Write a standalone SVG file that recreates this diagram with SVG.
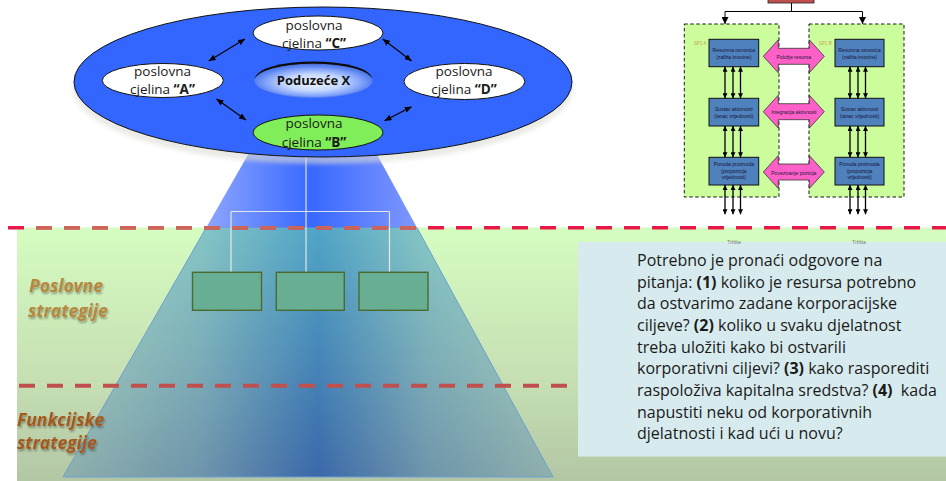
<svg xmlns="http://www.w3.org/2000/svg" width="946" height="481" viewBox="0 0 946 481">
  <style>
    .unit { font-family: "Open Sans", "Noto Sans", sans-serif; font-size: 13.5px; fill: #1a1a1a; text-anchor: middle; }
    .unit tspan.b { font-weight: bold; }
    .hub { font-family: "Open Sans", "Noto Sans", sans-serif; font-size: 13px; font-weight: bold; fill: #111; text-anchor: middle; }
    .level { font-family: "Open Sans", "Noto Sans", sans-serif; font-size: 17.5px; font-weight: bold; font-style: italic; }
    .note { font-family: "Open Sans", "Noto Sans", sans-serif; font-size: 16px; fill: #1a1a1a; white-space: pre; }
    .note tspan.b { font-weight: bold; }
    .tiny { font-family: "Liberation Sans", Arial, sans-serif; font-size: 5px; fill: #16163a; text-anchor: middle; }
    .sp { font-family: "Liberation Sans", Arial, sans-serif; font-size: 4.5px; fill: #c9a24e; }
    .mkt { font-family: "Liberation Sans", Arial, sans-serif; font-size: 4.5px; fill: #777; text-anchor: middle; }
    .link { stroke: #000; stroke-width: 1.2; fill: none; marker-start: url(#head); marker-end: url(#head); }
    .flow { stroke: #000; stroke-width: 1.3; fill: none; marker-start: url(#tip); marker-end: url(#tip); }
    .drop { stroke: #000; stroke-width: 1; fill: none; }
    .bucket { fill: #ccfd9c; stroke: #000; stroke-width: 0.9; stroke-dasharray: 3.5 2.5; }
    .block { fill: #4f81bd; stroke: #111; stroke-width: 1; }
    .bridge { fill: #ff60c8; stroke: #333; stroke-width: 0.8; }
    .sbu { fill: #68ae93; stroke: #4b6a2f; stroke-width: 1.4; }
    .wire { stroke: #f6f6e8; stroke-opacity: 0.85; stroke-width: 1.2; fill: none; }
  </style>
  <defs>
    <linearGradient id="bandFill" x1="0" y1="0" x2="0" y2="1">
      <stop offset="0" stop-color="#d5fdc1"/>
      <stop offset="0.6" stop-color="#c6dfb3"/>
      <stop offset="1" stop-color="#b2c6a4"/>
    </linearGradient>
    <linearGradient id="beamTop" gradientUnits="userSpaceOnUse" x1="206" y1="0" x2="417" y2="0">
      <stop offset="0" stop-color="#8ea6ff"/>
      <stop offset="0.5" stop-color="#3868ff"/>
      <stop offset="1" stop-color="#8098ff"/>
    </linearGradient>
    <linearGradient id="beamColor" gradientUnits="userSpaceOnUse" x1="0" y1="228" x2="0" y2="477">
      <stop offset="0" stop-color="#3c98c8"/>
      <stop offset="1" stop-color="#2858a8"/>
    </linearGradient>
    <linearGradient id="beamProfile" gradientUnits="userSpaceOnUse" x1="63" y1="0" x2="553" y2="0">
      <stop offset="0" stop-color="#262626"/>
      <stop offset="0.28" stop-color="#6a6a6a"/>
      <stop offset="0.52" stop-color="#d8d8d8"/>
      <stop offset="0.74" stop-color="#6a6a6a"/>
      <stop offset="1" stop-color="#262626"/>
    </linearGradient>
    <mask id="beamMask" maskUnits="userSpaceOnUse" x="0" y="0" width="946" height="481">
      <rect x="63" y="227" width="490" height="251" fill="url(#beamProfile)"/>
    </mask>
    <radialGradient id="hubFill" cx="0.5" cy="0.5" r="0.5" gradientTransform="translate(0,0.05)">
      <stop offset="0" stop-color="#f2f7ff"/>
      <stop offset="0.5" stop-color="#c4d8ff"/>
      <stop offset="0.85" stop-color="#7a9cf8"/>
      <stop offset="1" stop-color="#5580f0"/>
    </radialGradient>
    <filter id="blur" x="-10%" y="-20%" width="120%" height="140%">
      <feGaussianBlur stdDeviation="2"/>
    </filter>
    <filter id="labelShadow" x="-10%" y="-30%" width="130%" height="170%">
      <feDropShadow dx="1" dy="2" stdDeviation="1.2" flood-color="#000" flood-opacity="0.35"/>
    </filter>
    <marker id="head" viewBox="0 0 7 6" refX="7" refY="3" markerWidth="7" markerHeight="6" markerUnits="userSpaceOnUse" orient="auto-start-reverse">
      <path d="M0,0 L7,3 L0,6 Z" fill="#000"/>
    </marker>
    <marker id="tip" viewBox="0 0 5 5" refX="5" refY="2.5" markerWidth="5" markerHeight="5" markerUnits="userSpaceOnUse" orient="auto-start-reverse">
      <path d="M0,0 L5,2.5 L0,5 Z" fill="#000"/>
    </marker>
    <marker id="down" viewBox="0 0 7 7" refX="7" refY="3.5" markerWidth="7" markerHeight="7" markerUnits="userSpaceOnUse" orient="auto">
      <path d="M0,0 L7,3.5 L0,7 Z" fill="#000"/>
    </marker>
    <path id="bridgeShape" d="M0,0 L15,-16.5 L15,-8 L46,-8 L46,-16.5 L61,0 L46,16.5 L46,8 L15,8 L15,16.5 Z"/>
  </defs>

  <rect width="946" height="481" fill="#fff"/>

  <!-- strategy levels band -->
  <rect x="17" y="227.5" width="929" height="254" fill="url(#bandFill)"/>
  <rect x="578" y="242" width="368" height="214.5" fill="#d7ebee"/>

  <!-- beam under the corporate level -->
  <polygon points="206.3,227.5 416.9,227.5 553,477 63,477" fill="#6aa8c8" fill-opacity="0.25"/>
  <polygon points="206.3,227.5 416.9,227.5 553,477 63,477" fill="url(#beamColor)" mask="url(#beamMask)"/>
  <polygon points="206.3,227.5 416.9,227.5 553,477 63,477" fill="none" stroke="#6c9ed2" stroke-width="1"/>
  <polygon points="250.7,150 374.5,150 416.9,227.5 206.3,227.5" fill="url(#beamTop)"/>

  <!-- level separators -->
  <path d="M8,227.7 H946" stroke="#e8194a" stroke-width="3.5" stroke-dasharray="16 12"/>
  <path d="M36,227.7 H420" stroke="#cc6458" stroke-width="3.5" stroke-dasharray="16 12"/>
  <path d="M19,385.7 H568" stroke="#c0504d" stroke-width="4" stroke-dasharray="16 12"/>

  <!-- business strategy boxes -->
  <g id="connectors-tree">
    <path class="wire" d="M306,150 V272 M231,211.5 H389.5 M231,211.5 V272 M389.5,211.5 V272"/>
  </g>
  <g id="sbu-1"><rect class="sbu" x="192.5" y="272.3" width="69" height="38"/></g>
  <g id="sbu-2"><rect class="sbu" x="276.3" y="272.3" width="68" height="38"/></g>
  <g id="sbu-3"><rect class="sbu" x="359" y="272.3" width="69" height="38"/></g>

  <!-- corporate level -->
  <g id="corporation">
    <ellipse cx="323" cy="88" rx="250" ry="76" fill="#dcdcd4" opacity="0.6" filter="url(#blur)"/>
    <ellipse cx="323" cy="82" rx="249" ry="75" fill="#3366ff" stroke="#111" stroke-width="1"/>
  </g>
  <g id="unit-c">
    <ellipse cx="318" cy="33" rx="65" ry="17" fill="#fff" stroke="#111" stroke-width="1"/>
    <text class="unit" x="314" y="29.5">poslovna</text>
    <text class="unit" x="314" y="48">cjelina <tspan class="b">“C”</tspan></text>
  </g>
  <g id="unit-a">
    <ellipse cx="162.8" cy="80.5" rx="60.5" ry="17" fill="#fff" stroke="#111" stroke-width="1"/>
    <text class="unit" x="162.5" y="75.5">poslovna</text>
    <text class="unit" x="162.5" y="93.5">cjelina <tspan class="b">“A”</tspan></text>
  </g>
  <g id="unit-d">
    <ellipse cx="464.4" cy="81.5" rx="60.4" ry="18" fill="#fff" stroke="#111" stroke-width="1"/>
    <text class="unit" x="464" y="75.5">poslovna</text>
    <text class="unit" x="464" y="93.5">cjelina <tspan class="b">“D”</tspan></text>
  </g>
  <g id="unit-b">
    <ellipse cx="318" cy="132.5" rx="65" ry="17.5" fill="#80ee58" stroke="#111" stroke-width="1"/>
    <text class="unit" x="314" y="128">poslovna</text>
    <text class="unit" x="314" y="146.5">cjelina <tspan class="b">“B”</tspan></text>
  </g>
  <g id="company-x">
    <ellipse cx="313.5" cy="78.8" rx="58.5" ry="17.3" fill="#0c0c0c"/>
    <ellipse cx="313.5" cy="80.8" rx="58.8" ry="16.6" fill="url(#hubFill)" stroke="#5a82ee" stroke-width="0.8"/>
    <text class="hub" x="313.5" y="85">Poduzeće X</text>
  </g>
  <g id="connectors-units">
    <line class="link" x1="208.7" y1="61" x2="245" y2="39"/>
    <line class="link" x1="382.8" y1="39" x2="411.6" y2="61"/>
    <line class="link" x1="216.5" y1="99" x2="246" y2="120"/>
    <line class="link" x1="384.5" y1="120.7" x2="411.6" y2="106.7"/>
  </g>

  <!-- level names -->
  <g id="label-business" filter="url(#labelShadow)">
    <text class="level" x="29" y="292" fill="#b8863c">Poslovne</text>
    <text class="level" x="28" y="317" fill="#b8863c">strategije</text>
  </g>
  <g id="label-functional" filter="url(#labelShadow)">
    <text class="level" x="17" y="426" fill="#a6591f">Funkcijske</text>
    <text class="level" x="17" y="449" fill="#a6591f">strategije</text>
  </g>

  <!-- questions -->
  <g id="note">
    <text class="note" x="637" y="266">Potrebno je pronaći odgovore na</text>
    <text class="note" x="637" y="287.7">pitanja: <tspan class="b">(1)</tspan> koliko je resursa potrebno</text>
    <text class="note" x="637" y="309.3">da ostvarimo zadane korporacijske</text>
    <text class="note" x="637" y="331">ciljeve? <tspan class="b">(2)</tspan> koliko u svaku djelatnost</text>
    <text class="note" x="637" y="352.7">treba uložiti kako bi ostvarili</text>
    <text class="note" x="637" y="374.3">korporativni ciljevi? <tspan class="b">(3)</tspan> kako rasporediti</text>
    <text class="note" x="637" y="396">raspoloživa kapitalna sredstva? <tspan class="b">(4)</tspan>  kada</text>
    <text class="note" x="637" y="417.7">napustiti neku od korporativnih</text>
    <text class="note" x="637" y="439.3">djelatnosti i kad ući u novu?</text>
  </g>

  <!-- two business units sharing resources -->
  <g id="parent"><rect x="768" y="-4" width="46" height="7" fill="#c0504d" stroke="#222" stroke-width="0.8"/></g>
  <g id="connectors-parent">
    <path class="drop" d="M791.5,3 V11.5 M725,11.5 H862.5"/>
    <path class="drop" d="M725,11.5 V24" marker-end="url(#down)"/>
    <path class="drop" d="M862.5,11.5 V24" marker-end="url(#down)"/>
  </g>
  <g id="sp1-a">
    <rect class="bucket" x="684.3" y="24" width="94.7" height="173"/>
    <text class="sp" x="694" y="45">SP1 A</text>
  </g>
  <g id="sp1-b">
    <rect class="bucket" x="809" y="24" width="95" height="173"/>
    <text class="sp" x="819" y="45">SP1 B</text>
  </g>
  <g id="a-resources">
    <rect class="block" x="709" y="39.3" width="49.7" height="27.4"/>
    <text class="tiny" x="733.8" y="51.8">Resursna osnovica</text>
    <text class="tiny" x="733.8" y="59">(zaliha imovine)</text>
  </g>
  <g id="a-activities">
    <rect class="block" x="709" y="98.3" width="49.7" height="27.7"/>
    <text class="tiny" x="733.8" y="110.8">Sustav aktivnosti</text>
    <text class="tiny" x="733.8" y="118.3">(lanac vrijednosti)</text>
  </g>
  <g id="a-offer">
    <rect class="block" x="709" y="157.3" width="49.7" height="27.7"/>
    <text class="tiny" x="733.8" y="166">Ponuda proizvoda</text>
    <text class="tiny" x="733.8" y="172.7">(propozicija</text>
    <text class="tiny" x="733.8" y="179.4">vrijednosti)</text>
  </g>
  <g id="b-resources">
    <rect class="block" x="835" y="39.3" width="49" height="27.4"/>
    <text class="tiny" x="859.5" y="51.8">Resursna osnovica</text>
    <text class="tiny" x="859.5" y="59">(zaliha imovine)</text>
  </g>
  <g id="b-activities">
    <rect class="block" x="835" y="98.3" width="49" height="27.7"/>
    <text class="tiny" x="859.5" y="110.8">Sustav aktivnosti</text>
    <text class="tiny" x="859.5" y="118.3">(lanac vrijednosti)</text>
  </g>
  <g id="b-offer">
    <rect class="block" x="835" y="157.3" width="49" height="27.7"/>
    <text class="tiny" x="859.5" y="166">Ponuda proizvoda</text>
    <text class="tiny" x="859.5" y="172.7">(propozicija</text>
    <text class="tiny" x="859.5" y="179.4">vrijednosti)</text>
  </g>
  <g id="connectors-flows">
    <path class="flow" d="M725,66.7 V98.3"/><path class="flow" d="M733,66.7 V98.3"/><path class="flow" d="M740.5,66.7 V98.3"/>
    <path class="flow" d="M725,126 V157.3"/><path class="flow" d="M733,126 V157.3"/><path class="flow" d="M740.5,126 V157.3"/>
    <path class="flow" d="M725,185 V214.3"/><path class="flow" d="M733,185 V214.3"/><path class="flow" d="M740.5,185 V214.3"/>
    <path class="flow" d="M850,66.7 V98.3"/><path class="flow" d="M858,66.7 V98.3"/><path class="flow" d="M865.5,66.7 V98.3"/>
    <path class="flow" d="M850,126 V157.3"/><path class="flow" d="M858,126 V157.3"/><path class="flow" d="M865.5,126 V157.3"/>
    <path class="flow" d="M850,185 V214.3"/><path class="flow" d="M858,185 V214.3"/><path class="flow" d="M865.5,185 V214.3"/>
  </g>
  <g id="leverage">
    <use href="#bridgeShape" class="bridge" x="763.3" y="56.3"/>
    <text class="tiny" x="793.8" y="58.8">Polužje resursa</text>
  </g>
  <g id="integration">
    <use href="#bridgeShape" class="bridge" x="763.3" y="111.7"/>
    <text class="tiny" x="793.8" y="114.2">Integracija aktivnosti</text>
  </g>
  <g id="linking">
    <use href="#bridgeShape" class="bridge" x="763.3" y="172"/>
    <text class="tiny" x="793.8" y="174.5">Povezivanje pozicija</text>
  </g>
  <text class="mkt" x="734" y="244">Tržišta</text>
  <text class="mkt" x="859" y="244">Tržišta</text>
</svg>
